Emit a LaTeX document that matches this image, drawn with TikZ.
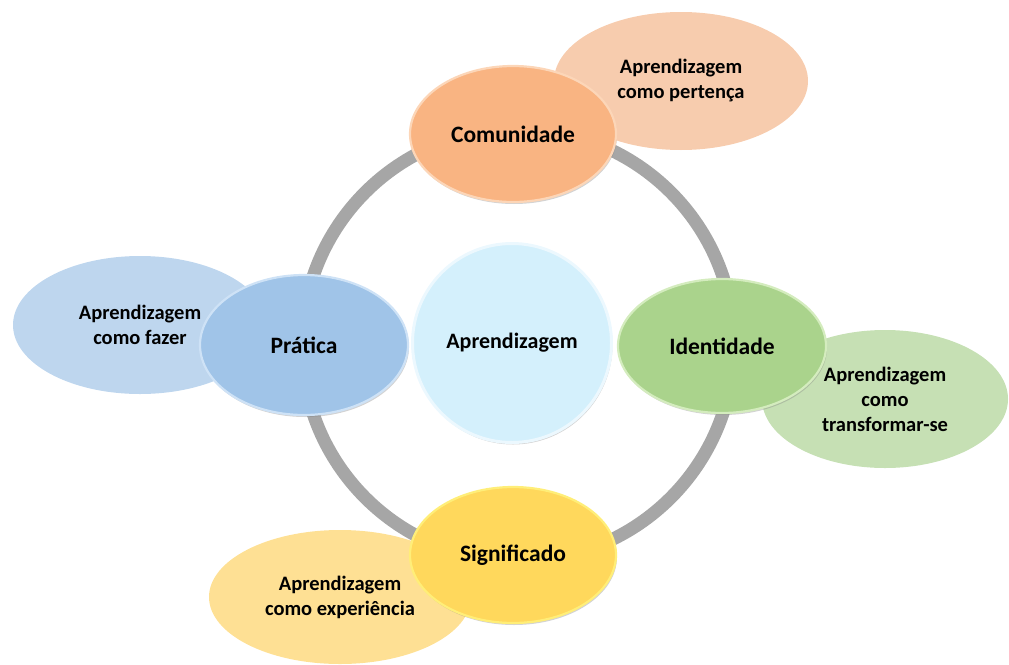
\documentclass[tikz,border=0pt]{standalone}
\usepackage{fontspec}
\setmainfont{Carlito}
\usetikzlibrary{shapes.geometric, shadows}

\definecolor{ringgray}{RGB}{166,166,166}
\definecolor{comuFill}{RGB}{249,180,130}
\definecolor{comuRim}{RGB}{252,214,184}
\definecolor{pertFill}{RGB}{247,204,174}
\definecolor{pratFill}{RGB}{160,196,232}
\definecolor{pratRim}{RGB}{206,226,246}
\definecolor{fazFill}{RGB}{190,214,238}
\definecolor{idenFill}{RGB}{170,211,140}
\definecolor{idenRim}{RGB}{212,236,190}
\definecolor{tranFill}{RGB}{198,224,180}
\definecolor{signFill}{RGB}{255,216,92}
\definecolor{signRim}{RGB}{255,238,120}
\definecolor{expeFill}{RGB}{254,224,148}
\definecolor{aprFill}{RGB}{212,240,252}
\definecolor{aprRim}{RGB}{236,248,254}

\begin{document}
\begin{tikzpicture}[x=1pt, y=-1pt,
		core/.style={ellipse, inner sep=0pt, minimum width=206pt, minimum height=136pt, line width=2.2pt,
			drop shadow={shadow xshift=1pt, shadow yshift=-2pt, opacity=0.35},
			font=\fontsize{23.5}{28}\selectfont\bfseries},
		outer/.style={ellipse, inner sep=0pt, minimum width=254pt, minimum height=138pt, align=center,
			font=\fontsize{20.5}{25}\selectfont\bfseries}]
	\useasboundingbox (0,0) rectangle (1009,664);

	\draw[ringgray, line width=13pt]	(518,345) circle[radius=216pt];

	\node[outer, fill=pertFill]	(pertenca)		at (681,81)		{Aprendizagem\\como pertença};
	\node[outer, fill=fazFill]	(fazer)			at (140,325)	{Aprendizagem\\como fazer};
	\node[outer, fill=tranFill, minimum width=246pt]	(transformar)	at (885,399)	{Aprendizagem\\como\\transformar-se};
	\node[outer, fill=expeFill, minimum width=262pt, minimum height=134pt]	(experiencia)	at (340,597)	{Aprendizagem\\como experiência};

	\node[core, fill=comuFill, draw=comuRim]	(comunidade)	at (513,134)	{Comunidade};
	\node[core, fill=pratFill, draw=pratRim, minimum width=208pt, minimum height=140pt]	(pratica)	at (304,345)	{Prática};
	\node[core, fill=idenFill, draw=idenRim, minimum width=208pt, minimum height=134pt]	(identidade)	at (722,346)	{Identidade};
	\node[core, fill=signFill, draw=signRim]	(significado)	at (513,555)	{Significado};

	\node[core, circle, fill=aprFill, draw=aprRim, minimum size=199pt, line width=3pt,
		font=\fontsize{22}{26}\selectfont\bfseries]	(aprendizagem)	at (512,343)	{Aprendizagem};
\end{tikzpicture}
\end{document}
